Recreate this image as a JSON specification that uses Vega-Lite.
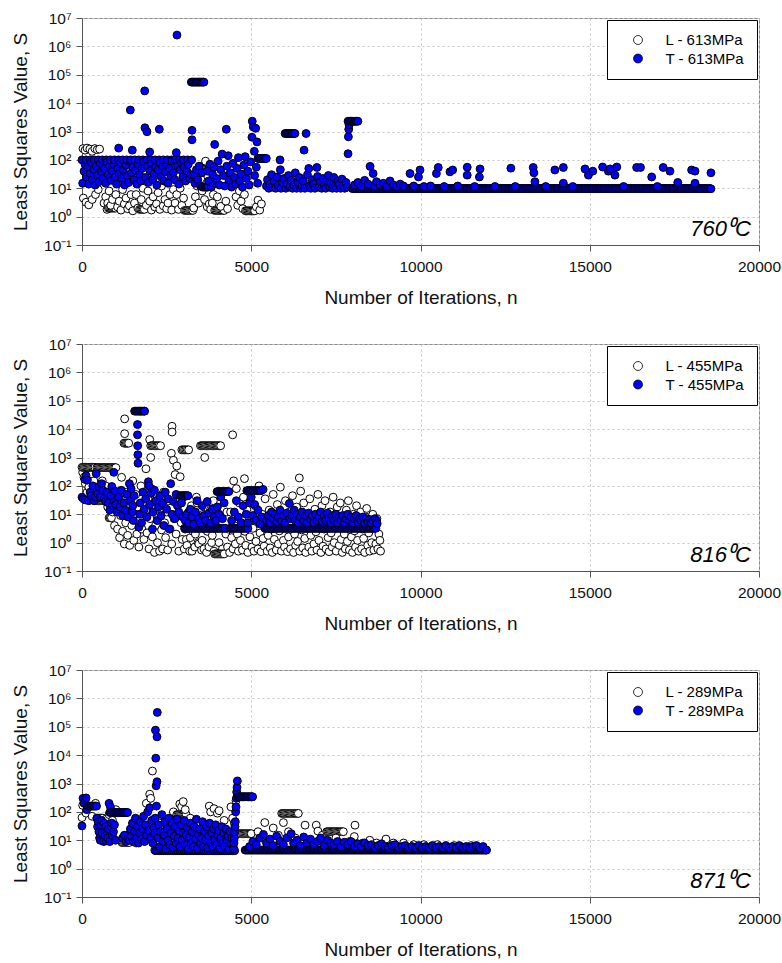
{
"$schema": "https://vega.github.io/schema/vega-lite/v6.json",
"padding": {"left": 11, "top": 10, "right": 4, "bottom": 4},
"background": "white",
"config": {
"font": "Liberation Sans",
"view": {"stroke": "#8a8a8a", "strokeWidth": 1},
"axis": {"labelFont": "Liberation Sans", "labelFontSize": 15.5, "labelColor": "#111", "titleFont": "Liberation Sans", "titleFontSize": 19, "titleFontWeight": "normal", "titleColor": "#111", "domainColor": "#555", "tickColor": "#555", "tickSize": 6, "grid": true, "gridColor": "#c4c4c4", "gridDash": [2, 3], "gridWidth": 1},
"axisX": {"labelPadding": 8, "titlePadding": 14, "labelFlush": false, "labelOverlap": false},
"axisY": {"labelPadding": 5, "titlePadding": 13},
"legend": {"orient": "top-right", "offset": 2, "strokeColor": "#000", "fillColor": "#fff", "padding": 12.5, "labelFont": "Liberation Sans", "labelFontSize": 15, "labelColor": "#000", "symbolSize": 80, "symbolStrokeColor": "#000", "symbolStrokeWidth": 0.8, "symbolType": "circle", "labelOffset": 20, "symbolOffset": 11, "rowPadding": 2.5}
},
"datasets": {
"l1": [{"n":30,"v":250},{"n":40,"v":4.5},{"n":90,"v":220},{"n":120,"v":3.2},{"n":150,"v":260},{"n":200,"v":2.6},{"n":230,"v":240},{"n":300,"v":4},{"n":300,"v":200},{"n":380,"v":250},{"n":400,"v":6},{"n":450,"v":230},{"n":480,"v":9},{"n":520,"v":240},{"n":650,"v":3},{"n":700,"v":5},{"n":740,"v":1.8},{"n":760,"v":3},{"n":780,"v":2},{"n":815,"v":2},{"n":850,"v":2},{"n":885,"v":2},{"n":920,"v":2},{"n":955,"v":2},{"n":990,"v":2},{"n":800,"v":8},{"n":850,"v":2.5},{"n":900,"v":4},{"n":1000,"v":6},{"n":1050,"v":2.2},{"n":1100,"v":3.5},{"n":1150,"v":1.7},{"n":1200,"v":9},{"n":1250,"v":2.8},{"n":1300,"v":4.5},{"n":1350,"v":1.9},{"n":1400,"v":2.4},{"n":1450,"v":6},{"n":1500,"v":1.6},{"n":1550,"v":3},{"n":1600,"v":6},{"n":1650,"v":2},{"n":1700,"v":1.8},{"n":1735,"v":1.8},{"n":1770,"v":1.8},{"n":1805,"v":1.8},{"n":1840,"v":1.8},{"n":1750,"v":4},{"n":1800,"v":10},{"n":1900,"v":2.5},{"n":1950,"v":8},{"n":2000,"v":3.5},{"n":2050,"v":1.7},{"n":2100,"v":5},{"n":2150,"v":2.2},{"n":2200,"v":2.8},{"n":2250,"v":7},{"n":2300,"v":1.8},{"n":2350,"v":12},{"n":2400,"v":2.4},{"n":2450,"v":4},{"n":2500,"v":1.9},{"n":2540,"v":3},{"n":2600,"v":6},{"n":2650,"v":1.7},{"n":2700,"v":9},{"n":2750,"v":3},{"n":2800,"v":6},{"n":2850,"v":1.8},{"n":2900,"v":10},{"n":2950,"v":2.5},{"n":3000,"v":4.5},{"n":3030,"v":1.65},{"n":3065,"v":1.65},{"n":3100,"v":1.65},{"n":3135,"v":1.65},{"n":3170,"v":1.65},{"n":3205,"v":1.65},{"n":3240,"v":1.65},{"n":3275,"v":1.65},{"n":3300,"v":2},{"n":3350,"v":5},{"n":3400,"v":12},{"n":3450,"v":3},{"n":3500,"v":30},{"n":3520,"v":60},{"n":3550,"v":8},{"n":3580,"v":20},{"n":3600,"v":48},{"n":3635,"v":48},{"n":3670,"v":48},{"n":3705,"v":48},{"n":3740,"v":48},{"n":3775,"v":48},{"n":3810,"v":48},{"n":3850,"v":48},{"n":3620,"v":4},{"n":3650,"v":90},{"n":3680,"v":15},{"n":3700,"v":2.2},{"n":3720,"v":25},{"n":3760,"v":2.8},{"n":3800,"v":1.8},{"n":3850,"v":3},{"n":3880,"v":6},{"n":3920,"v":1.65},{"n":3955,"v":1.65},{"n":3990,"v":1.65},{"n":4025,"v":1.65},{"n":4060,"v":1.65},{"n":4095,"v":1.65},{"n":4130,"v":1.65},{"n":4165,"v":1.65},{"n":4200,"v":1.65},{"n":4000,"v":5},{"n":4100,"v":2.3},{"n":4250,"v":3.5},{"n":4300,"v":1.9},{"n":4550,"v":5},{"n":4600,"v":2.5},{"n":4650,"v":8},{"n":4700,"v":3.5},{"n":4750,"v":1.9},{"n":4800,"v":6},{"n":4830,"v":1.6},{"n":4865,"v":1.6},{"n":4900,"v":1.6},{"n":4935,"v":1.6},{"n":4970,"v":1.6},{"n":5005,"v":1.6},{"n":5040,"v":1.6},{"n":5075,"v":1.6},{"n":5100,"v":1.6},{"n":5150,"v":2.2},{"n":5200,"v":3.8},{"n":5250,"v":1.7},{"n":5300,"v":2.8}],
"t1": [{"n":0,"v":100},{"n":20,"v":15},{"n":60,"v":40},{"n":90,"v":70},{"n":120,"v":100},{"n":130,"v":25},{"n":170,"v":55},{"n":200,"v":14},{"n":240,"v":100},{"n":240,"v":33},{"n":280,"v":80},{"n":310,"v":20},{"n":350,"v":45},{"n":360,"v":100},{"n":390,"v":13},{"n":420,"v":60},{"n":460,"v":28},{"n":480,"v":100},{"n":500,"v":17},{"n":540,"v":75},{"n":580,"v":38},{"n":600,"v":100},{"n":620,"v":22},{"n":660,"v":50},{"n":700,"v":15},{"n":720,"v":100},{"n":740,"v":85},{"n":780,"v":30},{"n":820,"v":60},{"n":840,"v":100},{"n":860,"v":19},{"n":900,"v":40},{"n":940,"v":70},{"n":960,"v":100},{"n":980,"v":25},{"n":1020,"v":14},{"n":1060,"v":50},{"n":1080,"v":100},{"n":1084,"v":260},{"n":1100,"v":33},{"n":1140,"v":80},{"n":1180,"v":22},{"n":1200,"v":100},{"n":1220,"v":45},{"n":1260,"v":13},{"n":1300,"v":65},{"n":1320,"v":100},{"n":1340,"v":28},{"n":1380,"v":16},{"n":1420,"v":90},{"n":1428,"v":5700},{"n":1440,"v":100},{"n":1460,"v":35},{"n":1486,"v":220},{"n":1500,"v":55},{"n":1540,"v":20},{"n":1560,"v":100},{"n":1580,"v":42},{"n":1620,"v":14},{"n":1660,"v":70},{"n":1680,"v":100},{"n":1700,"v":30},{"n":1740,"v":18},{"n":1780,"v":50},{"n":1800,"v":100},{"n":1820,"v":85},{"n":1852,"v":27000},{"n":1860,"v":1350},{"n":1880,"v":24},{"n":1920,"v":980},{"n":1920,"v":100},{"n":1930,"v":60},{"n":1960,"v":16},{"n":2000,"v":190},{"n":2010,"v":40},{"n":2040,"v":100},{"n":2050,"v":75},{"n":2090,"v":20},{"n":2130,"v":32},{"n":2160,"v":100},{"n":2170,"v":55},{"n":2210,"v":13},{"n":2250,"v":45},{"n":2280,"v":100},{"n":2284,"v":1200},{"n":2300,"v":80},{"n":2340,"v":25},{"n":2380,"v":60},{"n":2400,"v":100},{"n":2420,"v":18},{"n":2460,"v":38},{"n":2500,"v":70},{"n":2520,"v":100},{"n":2540,"v":15},{"n":2580,"v":50},{"n":2620,"v":28},{"n":2640,"v":100},{"n":2660,"v":90},{"n":2700,"v":35},{"n":2740,"v":20},{"n":2760,"v":100},{"n":2786,"v":180},{"n":2806,"v":2500000},{"n":2820,"v":60},{"n":2860,"v":14},{"n":2880,"v":100},{"n":2900,"v":45},{"n":2940,"v":80},{"n":2980,"v":25},{"n":3000,"v":100},{"n":3020,"v":55},{"n":3060,"v":18},{"n":3100,"v":40},{"n":3120,"v":100},{"n":3140,"v":70},{"n":3180,"v":22},{"n":3220,"v":30},{"n":3240,"v":100},{"n":3250,"v":1100},{"n":3250,"v":510},{"n":3230,"v":55000},{"n":3265,"v":55000},{"n":3300,"v":55000},{"n":3335,"v":55000},{"n":3370,"v":55000},{"n":3405,"v":55000},{"n":3440,"v":55000},{"n":3475,"v":55000},{"n":3510,"v":55000},{"n":3545,"v":55000},{"n":3580,"v":55000},{"n":3600,"v":55000},{"n":3300,"v":30},{"n":3340,"v":15},{"n":3380,"v":45},{"n":3420,"v":20},{"n":3460,"v":60},{"n":3500,"v":12},{"n":3540,"v":35},{"n":3560,"v":11},{"n":3595,"v":11},{"n":3630,"v":11},{"n":3665,"v":11},{"n":3700,"v":11},{"n":3720,"v":11},{"n":3700,"v":40},{"n":3740,"v":18},{"n":3780,"v":70},{"n":3820,"v":11},{"n":3860,"v":30},{"n":3900,"v":55},{"n":3920,"v":350},{"n":3940,"v":15},{"n":3980,"v":22},{"n":4020,"v":90},{"n":4060,"v":13},{"n":4100,"v":45},{"n":4140,"v":160},{"n":4180,"v":28},{"n":4220,"v":12},{"n":4263,"v":1200},{"n":4280,"v":60},{"n":4320,"v":140},{"n":4340,"v":20},{"n":4380,"v":35},{"n":4420,"v":11},{"n":4460,"v":75},{"n":4500,"v":24},{"n":4540,"v":14},{"n":4580,"v":50},{"n":4620,"v":120},{"n":4660,"v":18},{"n":4700,"v":32},{"n":4740,"v":11},{"n":4780,"v":65},{"n":4820,"v":130},{"n":4860,"v":22},{"n":4900,"v":40},{"n":4940,"v":13},{"n":4980,"v":85},{"n":5020,"v":630},{"n":5030,"v":2300},{"n":5060,"v":1450},{"n":5090,"v":200},{"n":5100,"v":28},{"n":5130,"v":1300},{"n":5150,"v":55},{"n":5170,"v":430},{"n":5190,"v":15},{"n":5200,"v":112},{"n":5235,"v":112},{"n":5270,"v":112},{"n":5305,"v":112},{"n":5340,"v":112},{"n":5375,"v":112},{"n":5410,"v":112},{"n":5445,"v":112},{"n":5450,"v":12},{"n":5480,"v":20},{"n":5520,"v":10},{"n":5560,"v":14},{"n":5600,"v":30},{"n":5640,"v":11},{"n":5680,"v":18},{"n":5720,"v":10},{"n":5760,"v":25},{"n":5800,"v":13},{"n":5850,"v":100},{"n":5860,"v":45},{"n":5880,"v":10},{"n":5920,"v":16},{"n":5960,"v":22},{"n":6000,"v":850},{"n":6035,"v":850},{"n":6070,"v":850},{"n":6105,"v":850},{"n":6140,"v":850},{"n":6175,"v":850},{"n":6210,"v":850},{"n":6245,"v":850},{"n":6290,"v":850},{"n":6020,"v":10},{"n":6060,"v":14},{"n":6100,"v":28},{"n":6140,"v":11},{"n":6180,"v":19},{"n":6220,"v":10},{"n":6260,"v":13},{"n":6300,"v":35},{"n":6340,"v":10},{"n":6380,"v":16},{"n":6420,"v":24},{"n":6460,"v":10},{"n":6500,"v":12},{"n":6540,"v":18},{"n":6560,"v":220},{"n":6580,"v":10},{"n":6620,"v":850},{"n":6660,"v":30},{"n":6700,"v":50},{"n":6720,"v":12},{"n":6760,"v":10},{"n":6800,"v":20},{"n":6840,"v":14},{"n":6880,"v":10},{"n":6940,"v":54},{"n":6960,"v":26},{"n":7000,"v":11},{"n":7040,"v":17},{"n":7080,"v":10},{"n":7120,"v":22},{"n":7160,"v":13},{"n":7200,"v":10},{"n":7240,"v":19},{"n":7280,"v":28},{"n":7320,"v":11},{"n":7360,"v":15},{"n":7400,"v":10},{"n":7440,"v":24},{"n":7480,"v":12},{"n":7520,"v":10},{"n":7560,"v":18},{"n":7600,"v":14},{"n":7640,"v":10},{"n":7680,"v":21},{"n":7720,"v":12},{"n":7760,"v":10},{"n":7800,"v":16},{"n":7840,"v":11},{"n":7860,"v":165},{"n":7870,"v":650},{"n":7880,"v":1200},{"n":7890,"v":1700},{"n":7860,"v":2300},{"n":7895,"v":2300},{"n":7930,"v":2300},{"n":7965,"v":2300},{"n":8000,"v":2300},{"n":8035,"v":2300},{"n":8070,"v":2300},{"n":8105,"v":2300},{"n":8150,"v":2300},
{"n":7980,"v":9.8},{"n":8020,"v":9.8},{"n":8060,"v":9.8},{"n":8100,"v":9.8},{"n":8140,"v":9.8},{"n":8180,"v":9.8},{"n":8220,"v":9.8},{"n":8260,"v":9.8},{"n":8300,"v":9.8},{"n":8340,"v":9.8},{"n":8380,"v":9.8},{"n":8420,"v":9.8},{"n":8460,"v":9.8},{"n":8500,"v":9.8},{"n":8540,"v":9.8},{"n":8580,"v":9.8},{"n":8620,"v":9.8},{"n":8660,"v":9.8},{"n":8700,"v":9.8},{"n":8740,"v":9.8},{"n":8780,"v":9.8},{"n":8820,"v":9.8},{"n":8860,"v":9.8},{"n":8900,"v":9.8},{"n":8940,"v":9.8},{"n":8980,"v":9.8},
{"n":9020,"v":9.8},{"n":9060,"v":9.8},{"n":9100,"v":9.8},{"n":9140,"v":9.8},{"n":9180,"v":9.8},{"n":9220,"v":9.8},{"n":9260,"v":9.8},{"n":9300,"v":9.8},{"n":9340,"v":9.8},{"n":9380,"v":9.8},{"n":9420,"v":9.8},{"n":9460,"v":9.8},{"n":9500,"v":9.8},{"n":9540,"v":9.8},{"n":9580,"v":9.8},{"n":9620,"v":9.8},{"n":9660,"v":9.8},{"n":9700,"v":9.8},{"n":9740,"v":9.8},{"n":9780,"v":9.8},{"n":9820,"v":9.8},{"n":9860,"v":9.8},{"n":9900,"v":9.8},{"n":9940,"v":9.8},{"n":9980,"v":9.8},
{"n":10020,"v":9.8},{"n":10060,"v":9.8},{"n":10100,"v":9.8},{"n":10140,"v":9.8},{"n":10180,"v":9.8},{"n":10220,"v":9.8},{"n":10260,"v":9.8},{"n":10300,"v":9.8},{"n":10340,"v":9.8},{"n":10380,"v":9.8},{"n":10420,"v":9.8},{"n":10460,"v":9.8},{"n":10500,"v":9.8},{"n":10540,"v":9.8},{"n":10580,"v":9.8},{"n":10620,"v":9.8},{"n":10660,"v":9.8},{"n":10700,"v":9.8},{"n":10740,"v":9.8},{"n":10780,"v":9.8},{"n":10820,"v":9.8},{"n":10860,"v":9.8},{"n":10900,"v":9.8},{"n":10940,"v":9.8},{"n":10980,"v":9.8},
{"n":11020,"v":9.8},{"n":11060,"v":9.8},{"n":11100,"v":9.8},{"n":11140,"v":9.8},{"n":11180,"v":9.8},{"n":11220,"v":9.8},{"n":11260,"v":9.8},{"n":11300,"v":9.8},{"n":11340,"v":9.8},{"n":11380,"v":9.8},{"n":11420,"v":9.8},{"n":11460,"v":9.8},{"n":11500,"v":9.8},{"n":11540,"v":9.8},{"n":11580,"v":9.8},{"n":11620,"v":9.8},{"n":11660,"v":9.8},{"n":11700,"v":9.8},{"n":11740,"v":9.8},{"n":11780,"v":9.8},{"n":11820,"v":9.8},{"n":11860,"v":9.8},{"n":11900,"v":9.8},{"n":11940,"v":9.8},{"n":11980,"v":9.8},
{"n":12020,"v":9.8},{"n":12060,"v":9.8},{"n":12100,"v":9.8},{"n":12140,"v":9.8},{"n":12180,"v":9.8},{"n":12220,"v":9.8},{"n":12260,"v":9.8},{"n":12300,"v":9.8},{"n":12340,"v":9.8},{"n":12380,"v":9.8},{"n":12420,"v":9.8},{"n":12460,"v":9.8},{"n":12500,"v":9.8},{"n":12540,"v":9.8},{"n":12580,"v":9.8},{"n":12620,"v":9.8},{"n":12660,"v":9.8},{"n":12700,"v":9.8},{"n":12740,"v":9.8},{"n":12780,"v":9.8},{"n":12820,"v":9.8},{"n":12860,"v":9.8},{"n":12900,"v":9.8},{"n":12940,"v":9.8},{"n":12980,"v":9.8},
{"n":13020,"v":9.8},{"n":13060,"v":9.8},{"n":13100,"v":9.8},{"n":13140,"v":9.8},{"n":13180,"v":9.8},{"n":13220,"v":9.8},{"n":13260,"v":9.8},{"n":13300,"v":9.8},{"n":13340,"v":9.8},{"n":13380,"v":9.8},{"n":13420,"v":9.8},{"n":13460,"v":9.8},{"n":13500,"v":9.8},{"n":13540,"v":9.8},{"n":13580,"v":9.8},{"n":13620,"v":9.8},{"n":13660,"v":9.8},{"n":13700,"v":9.8},{"n":13740,"v":9.8},{"n":13780,"v":9.8},{"n":13820,"v":9.8},{"n":13860,"v":9.8},{"n":13900,"v":9.8},{"n":13940,"v":9.8},{"n":13980,"v":9.8},
{"n":14020,"v":9.8},{"n":14060,"v":9.8},{"n":14100,"v":9.8},{"n":14140,"v":9.8},{"n":14180,"v":9.8},{"n":14220,"v":9.8},{"n":14260,"v":9.8},{"n":14300,"v":9.8},{"n":14340,"v":9.8},{"n":14380,"v":9.8},{"n":14420,"v":9.8},{"n":14460,"v":9.8},{"n":14500,"v":9.8},{"n":14540,"v":9.8},{"n":14580,"v":9.8},{"n":14620,"v":9.8},{"n":14660,"v":9.8},{"n":14700,"v":9.8},{"n":14740,"v":9.8},{"n":14780,"v":9.8},{"n":14820,"v":9.8},{"n":14860,"v":9.8},{"n":14900,"v":9.8},{"n":14940,"v":9.8},{"n":14980,"v":9.8},
{"n":15020,"v":9.8},{"n":15060,"v":9.8},{"n":15100,"v":9.8},{"n":15140,"v":9.8},{"n":15180,"v":9.8},{"n":15220,"v":9.8},{"n":15260,"v":9.8},{"n":15300,"v":9.8},{"n":15340,"v":9.8},{"n":15380,"v":9.8},{"n":15420,"v":9.8},{"n":15460,"v":9.8},{"n":15500,"v":9.8},{"n":15540,"v":9.8},{"n":15580,"v":9.8},{"n":15620,"v":9.8},{"n":15660,"v":9.8},{"n":15700,"v":9.8},{"n":15740,"v":9.8},{"n":15780,"v":9.8},{"n":15820,"v":9.8},{"n":15860,"v":9.8},{"n":15900,"v":9.8},{"n":15940,"v":9.8},{"n":15980,"v":9.8},
{"n":16020,"v":9.8},{"n":16060,"v":9.8},{"n":16100,"v":9.8},{"n":16140,"v":9.8},{"n":16180,"v":9.8},{"n":16220,"v":9.8},{"n":16260,"v":9.8},{"n":16300,"v":9.8},{"n":16340,"v":9.8},{"n":16380,"v":9.8},{"n":16420,"v":9.8},{"n":16460,"v":9.8},{"n":16500,"v":9.8},{"n":16540,"v":9.8},{"n":16580,"v":9.8},{"n":16620,"v":9.8},{"n":16660,"v":9.8},{"n":16700,"v":9.8},{"n":16740,"v":9.8},{"n":16780,"v":9.8},{"n":16820,"v":9.8},{"n":16860,"v":9.8},{"n":16900,"v":9.8},{"n":16940,"v":9.8},{"n":16980,"v":9.8},
{"n":17020,"v":9.8},{"n":17060,"v":9.8},{"n":17100,"v":9.8},{"n":17140,"v":9.8},{"n":17180,"v":9.8},{"n":17220,"v":9.8},{"n":17260,"v":9.8},{"n":17300,"v":9.8},{"n":17340,"v":9.8},{"n":17380,"v":9.8},{"n":17420,"v":9.8},{"n":17460,"v":9.8},{"n":17500,"v":9.8},{"n":17540,"v":9.8},{"n":17580,"v":9.8},{"n":17620,"v":9.8},{"n":17660,"v":9.8},{"n":17700,"v":9.8},{"n":17740,"v":9.8},{"n":17780,"v":9.8},{"n":17820,"v":9.8},{"n":17860,"v":9.8},{"n":17900,"v":9.8},{"n":17940,"v":9.8},{"n":17980,"v":9.8},
{"n":18020,"v":9.8},{"n":18060,"v":9.8},{"n":18100,"v":9.8},{"n":18140,"v":9.8},{"n":18180,"v":9.8},{"n":18220,"v":9.8},{"n":18260,"v":9.8},{"n":18300,"v":9.8},{"n":18340,"v":9.8},{"n":18380,"v":9.8},{"n":18420,"v":9.8},{"n":18460,"v":9.8},{"n":18500,"v":9.8},{"n":18540,"v":9.8},{"n":18580,"v":9.6},
{"n":8050,"v":13},{"n":8150,"v":16},{"n":8250,"v":12},{"n":8350,"v":19},{"n":8450,"v":14},{"n":8510,"v":59},{"n":8600,"v":33},{"n":8650,"v":12},{"n":8700,"v":17},{"n":8800,"v":13},{"n":8900,"v":15},{"n":9000,"v":12},{"n":9100,"v":18},{"n":9200,"v":13},{"n":9300,"v":11.5},{"n":9400,"v":14},{"n":9500,"v":12},{"n":9690,"v":33},{"n":9800,"v":12},{"n":9940,"v":25},{"n":9985,"v":44},{"n":10100,"v":11.5},{"n":10300,"v":12},{"n":10470,"v":33},{"n":10525,"v":54},{"n":10700,"v":11.5},{"n":10870,"v":38},{"n":10950,"v":44},{"n":11100,"v":12},{"n":11380,"v":55},{"n":11380,"v":29},{"n":11600,"v":11.5},{"n":11740,"v":25},{"n":11760,"v":48},{"n":12200,"v":11.5},{"n":12670,"v":51},{"n":12800,"v":11.5},{"n":13330,"v":54},{"n":13350,"v":35},{"n":13380,"v":17},{"n":13700,"v":11.5},{"n":13970,"v":44},{"n":14220,"v":54},{"n":14220,"v":15},{"n":14500,"v":11.5},{"n":14860,"v":48},{"n":14960,"v":29},{"n":15090,"v":40},{"n":15380,"v":56},{"n":15550,"v":40},{"n":15600,"v":48},{"n":15745,"v":29},{"n":15800,"v":56},{"n":16000,"v":11.5},{"n":16385,"v":54},{"n":16500,"v":54},{"n":16830,"v":25},{"n":17000,"v":11.5},{"n":17170,"v":54},{"n":17370,"v":40},{"n":17600,"v":16},{"n":18010,"v":44},{"n":18110,"v":40},{"n":18110,"v":15},{"n":18580,"v":35}],
"l2": [{"n":20,"v":300},{"n":60,"v":200},{"n":100,"v":120},{"n":150,"v":60},{"n":200,"v":90},{"n":250,"v":250},{"n":300,"v":40},{"n":350,"v":150},{"n":0,"v":450},{"n":35,"v":450},{"n":70,"v":450},{"n":105,"v":450},{"n":140,"v":450},{"n":175,"v":450},{"n":210,"v":450},{"n":245,"v":450},{"n":280,"v":450},{"n":315,"v":450},{"n":350,"v":450},{"n":385,"v":450},{"n":380,"v":30},{"n":415,"v":30},{"n":450,"v":30},{"n":485,"v":30},{"n":520,"v":30},{"n":555,"v":30},{"n":590,"v":30},{"n":625,"v":30},{"n":660,"v":30},{"n":695,"v":30},{"n":730,"v":30},{"n":500,"v":60},{"n":600,"v":150},{"n":700,"v":100},{"n":760,"v":18},{"n":800,"v":45},{"n":440,"v":440},{"n":475,"v":440},{"n":510,"v":440},{"n":545,"v":440},{"n":580,"v":440},{"n":615,"v":440},{"n":650,"v":440},{"n":685,"v":440},{"n":720,"v":440},{"n":755,"v":440},{"n":790,"v":440},{"n":825,"v":440},{"n":860,"v":440},{"n":895,"v":440},{"n":930,"v":440},{"n":965,"v":440},{"n":1000,"v":440},{"n":800,"v":7.5},{"n":835,"v":7.5},{"n":870,"v":7.5},{"n":860,"v":25},{"n":900,"v":12},{"n":920,"v":70},{"n":960,"v":4},{"n":1000,"v":35},{"n":1020,"v":15},{"n":1050,"v":3},{"n":1080,"v":40},{"n":1110,"v":1.5},{"n":1140,"v":9},{"n":1170,"v":200},{"n":1200,"v":2.5},{"n":1230,"v":25},{"n":1250,"v":0.9},{"n":1260,"v":23000},{"n":1260,"v":6900},{"n":1240,"v":3200},{"n":1275,"v":3200},{"n":1310,"v":3200},{"n":1345,"v":3200},{"n":1380,"v":3200},{"n":1290,"v":5},{"n":1320,"v":60},{"n":1350,"v":1.8},{"n":1380,"v":12},{"n":1410,"v":0.8},{"n":1440,"v":30},{"n":1470,"v":4},{"n":1500,"v":150},{"n":1530,"v":1.2},{"n":1560,"v":8},{"n":1590,"v":50},{"n":1620,"v":2},{"n":1650,"v":18},{"n":1680,"v":0.7},{"n":1710,"v":6},{"n":1740,"v":100},{"n":1770,"v":3},{"n":1800,"v":25},{"n":1830,"v":1.3},{"n":1860,"v":10},{"n":1890,"v":400},{"n":1920,"v":2.2},{"n":1950,"v":35},{"n":1980,"v":0.6},{"n":2000,"v":4300},{"n":2010,"v":7},{"n":2030,"v":1000},{"n":2030,"v":2600},{"n":2065,"v":2600},{"n":2100,"v":2600},{"n":2135,"v":2600},{"n":2170,"v":2600},{"n":2205,"v":2600},{"n":2240,"v":2600},{"n":2275,"v":2600},{"n":2320,"v":2600},{"n":2050,"v":80},{"n":2080,"v":1.6},{"n":2110,"v":15},{"n":2140,"v":0.45},{"n":2170,"v":4},{"n":2200,"v":45},{"n":2230,"v":1},{"n":2260,"v":9},{"n":2290,"v":0.5},{"n":2320,"v":20},{"n":2350,"v":2.8},{"n":2380,"v":0.6},{"n":2410,"v":60},{"n":2440,"v":5},{"n":2470,"v":1.5},{"n":2500,"v":12},{"n":2530,"v":0.55},{"n":2560,"v":30},{"n":2600,"v":3},{"n":2640,"v":1400},{"n":2650,"v":0.9},{"n":2660,"v":12600},{"n":2662,"v":7900},{"n":2700,"v":800},{"n":2720,"v":7},{"n":2750,"v":250},{"n":2780,"v":2},{"n":2800,"v":500},{"n":2830,"v":20},{"n":2860,"v":0.5},{"n":2900,"v":210},{"n":2930,"v":5},{"n":2950,"v":1860},{"n":2990,"v":1860},{"n":3030,"v":1860},{"n":3070,"v":1860},{"n":3110,"v":1860},{"n":3150,"v":1860},{"n":2960,"v":1.3},{"n":3000,"v":40},{"n":3020,"v":0.6},{"n":3050,"v":3},{"n":3080,"v":1.3},{"n":3100,"v":0.8},{"n":3130,"v":8},{"n":3150,"v":12},{"n":3180,"v":0.5},{"n":3200,"v":1.5},{"n":3230,"v":20},{"n":3250,"v":0.5},{"n":3280,"v":2.5},{"n":3300,"v":6},{"n":3330,"v":0.7},{"n":3350,"v":2},{"n":3380,"v":40},{"n":3400,"v":25},{"n":3430,"v":1},{"n":3450,"v":0.9},{"n":3480,"v":5},{"n":3500,"v":4},{"n":3530,"v":0.55},{"n":3550,"v":1.2},{"n":3580,"v":10},{"n":3600,"v":0.6},{"n":3625,"v":1000},{"n":3500,"v":2600},{"n":3535,"v":2600},{"n":3570,"v":2600},{"n":3605,"v":2600},{"n":3640,"v":2600},{"n":3675,"v":2600},{"n":3710,"v":2600},{"n":3745,"v":2600},{"n":3780,"v":2600},{"n":3815,"v":2600},{"n":3850,"v":2600},{"n":3885,"v":2600},{"n":3920,"v":2600},{"n":3955,"v":2600},{"n":3990,"v":2600},{"n":4025,"v":2600},{"n":4060,"v":2600},{"n":4095,"v":2600},{"n":3630,"v":3},{"n":3650,"v":9},{"n":3680,"v":0.45},{"n":3700,"v":2.5},{"n":3730,"v":15},{"n":3750,"v":0.7},{"n":3780,"v":4},{"n":3800,"v":15},{"n":3830,"v":1},{"n":3850,"v":1.8},{"n":3880,"v":30},{"n":3900,"v":0.5},{"n":4000,"v":3.5},{"n":4050,"v":1},{"n":4100,"v":8},{"n":4150,"v":0.6},{"n":3920,"v":0.4},{"n":3955,"v":0.4},{"n":3990,"v":0.4},{"n":4025,"v":0.4},{"n":4060,"v":0.4},{"n":4095,"v":0.4},{"n":4130,"v":0.4},{"n":4165,"v":0.4},{"n":4200,"v":0.4},{"n":4250,"v":2},{"n":4280,"v":12},
{"n":4300,"v":0.7},{"n":4330,"v":3},{"n":4360,"v":0.45},{"n":4390,"v":12},{"n":4420,"v":1.5},{"n":4450,"v":6300},{"n":4460,"v":0.6},{"n":4480,"v":150},{"n":4500,"v":4},{"n":4530,"v":0.9},{"n":4560,"v":80},{"n":4590,"v":2},{"n":4620,"v":0.5},{"n":4650,"v":25},{"n":4680,"v":1.2},{"n":4710,"v":7},{"n":4740,"v":0.55},{"n":4770,"v":40},{"n":4800,"v":180},{"n":4810,"v":2.5},{"n":4840,"v":0.8},{"n":4870,"v":15},{"n":4900,"v":0.45},{"n":4930,"v":5},{"n":4960,"v":1.6},{"n":4990,"v":60},{"n":5020,"v":0.7},{"n":5050,"v":3.2},{"n":5080,"v":0.5},{"n":5110,"v":20},{"n":5140,"v":1.1},{"n":5170,"v":8},{"n":5200,"v":0.6},{"n":5230,"v":100},{"n":5260,"v":2.2},{"n":5290,"v":0.48},{"n":5320,"v":10},{"n":5350,"v":1.4},{"n":5380,"v":0.75},{"n":5410,"v":35},{"n":5440,"v":4.5},{"n":5470,"v":0.5},{"n":5500,"v":1.8},{"n":5530,"v":14},{"n":5560,"v":0.65},{"n":5590,"v":3},{"n":5620,"v":0.45},{"n":5650,"v":50},{"n":5680,"v":1.3},{"n":5710,"v":6},{"n":5740,"v":0.55},{"n":5770,"v":22},{"n":5800,"v":0.9},{"n":5830,"v":2.6},{"n":5860,"v":90},{"n":5890,"v":0.5},{"n":5920,"v":9},{"n":5950,"v":1.2},{"n":5980,"v":0.7},{"n":6010,"v":30},{"n":6040,"v":3.8},{"n":6070,"v":0.48},{"n":6100,"v":1.6},{"n":6130,"v":12},{"n":6160,"v":0.6},{"n":6190,"v":5},{"n":6220,"v":45},{"n":6250,"v":0.45},{"n":6280,"v":2},{"n":6310,"v":0.8},{"n":6340,"v":18},{"n":6370,"v":1.1},{"n":6400,"v":7},{"n":6420,"v":190},{"n":6430,"v":0.5},{"n":6460,"v":65},{"n":6490,"v":2.8},{"n":6520,"v":0.65},{"n":6550,"v":25},{"n":6580,"v":1.4},{"n":6610,"v":0.45},{"n":6640,"v":10},{"n":6670,"v":4},{"n":6700,"v":0.7},{"n":6730,"v":35},{"n":6760,"v":1.8},{"n":6790,"v":0.5},{"n":6820,"v":8},{"n":6850,"v":0.9},{"n":6880,"v":15},{"n":6910,"v":2.4},{"n":6940,"v":0.55},{"n":6970,"v":50},{"n":7000,"v":1.2},{"n":7030,"v":5.5},{"n":7060,"v":0.45},{"n":7090,"v":20},{"n":7120,"v":0.75},{"n":7150,"v":3},{"n":7180,"v":30},{"n":7210,"v":0.6},{"n":7240,"v":9},{"n":7270,"v":1.5},{"n":7300,"v":0.48},{"n":7330,"v":12},{"n":7360,"v":2.2},{"n":7390,"v":0.7},{"n":7420,"v":40},{"n":7450,"v":1},{"n":7480,"v":6},{"n":7510,"v":0.5},{"n":7540,"v":18},{"n":7570,"v":3.5},{"n":7600,"v":0.8},{"n":7630,"v":25},{"n":7660,"v":1.3},{"n":7690,"v":0.45},{"n":7720,"v":7},{"n":7750,"v":2},{"n":7780,"v":0.6},{"n":7810,"v":14},{"n":7840,"v":1.1},{"n":7870,"v":30},{"n":7900,"v":0.55},{"n":7930,"v":4.5},{"n":7960,"v":1.6},{"n":7990,"v":0.45},{"n":8020,"v":10},{"n":8050,"v":2.6},{"n":8080,"v":0.7},{"n":8110,"v":20},{"n":8140,"v":1.2},{"n":8170,"v":0.5},{"n":8200,"v":6},{"n":8230,"v":12},{"n":8260,"v":0.6},{"n":8290,"v":3},{"n":8320,"v":1.4},{"n":8350,"v":0.45},{"n":8380,"v":8},{"n":8410,"v":16},{"n":8440,"v":0.8},{"n":8470,"v":2.2},{"n":8500,"v":0.5},{"n":8530,"v":5},{"n":8560,"v":1},{"n":8590,"v":10},{"n":8620,"v":0.55},{"n":8650,"v":3.5},{"n":8680,"v":0.9},{"n":8710,"v":7},{"n":8740,"v":0.6},{"n":8770,"v":2},{"n":8800,"v":1.2},{"n":8820,"v":0.5}],
"t2": [{"n":0,"v":40},{"n":40,"v":35},{"n":80,"v":170},{"n":100,"v":32},{"n":120,"v":230},{"n":160,"v":160},{"n":200,"v":30},{"n":240,"v":60},{"n":280,"v":45},{"n":320,"v":100},{"n":360,"v":30},{"n":400,"v":40},{"n":420,"v":270},{"n":460,"v":55},{"n":500,"v":90},{"n":540,"v":40},{"n":580,"v":120},{"n":620,"v":70},{"n":660,"v":35},{"n":700,"v":28},{"n":740,"v":60},{"n":780,"v":25},{"n":820,"v":14},{"n":860,"v":45},{"n":880,"v":95},{"n":900,"v":20},{"n":940,"v":300},{"n":960,"v":28},{"n":980,"v":65},{"n":1000,"v":22},{"n":1040,"v":12},{"n":1080,"v":40},{"n":1120,"v":18},{"n":1160,"v":70},{"n":1200,"v":9},{"n":1240,"v":25},{"n":1280,"v":14},{"n":1320,"v":50},{"n":1360,"v":8},{"n":1400,"v":120},{"n":1420,"v":30},{"n":1450,"v":80},{"n":1480,"v":12},{"n":1500,"v":20},{"n":1520,"v":6},{"n":1540,"v":45},{"n":1640,"v":14500},{"n":1640,"v":6300},{"n":1645,"v":2600},{"n":1650,"v":1250},{"n":1655,"v":630},{"n":1555,"v":43000},{"n":1590,"v":43000},{"n":1625,"v":43000},{"n":1660,"v":43000},{"n":1695,"v":43000},{"n":1730,"v":43000},{"n":1765,"v":43000},{"n":1800,"v":43000},{"n":1835,"v":43000},{"n":1850,"v":43000},{"n":1680,"v":3.5},{"n":1700,"v":10},{"n":1720,"v":25},{"n":1760,"v":5},{"n":1800,"v":60},{"n":1840,"v":15},{"n":1880,"v":35},{"n":1920,"v":8},{"n":1960,"v":140},{"n":1980,"v":100},{"n":2000,"v":22},{"n":2040,"v":55},{"n":2080,"v":3},{"n":2100,"v":12},{"n":2140,"v":70},{"n":2180,"v":30},{"n":2220,"v":6},{"n":2260,"v":18},{"n":2300,"v":45},{"n":2340,"v":9},{"n":2380,"v":25},{"n":2420,"v":4},{"n":2460,"v":60},{"n":2500,"v":15},{"n":2540,"v":35},{"n":2580,"v":3},{"n":2620,"v":120},{"n":2660,"v":10},{"n":2700,"v":28},{"n":2740,"v":7},{"n":2780,"v":50},{"n":2820,"v":20},{"n":2860,"v":12},{"n":2900,"v":45},{"n":2935,"v":45},{"n":2970,"v":45},{"n":3005,"v":45},{"n":3040,"v":45},{"n":3075,"v":45},{"n":3110,"v":45},{"n":3130,"v":45},{"n":2940,"v":25},{"n":2980,"v":8},
{"n":3030,"v":3.2},{"n":3070,"v":3.2},{"n":3110,"v":3.2},{"n":3150,"v":3.2},{"n":3190,"v":3.2},{"n":3230,"v":3.2},{"n":3270,"v":3.2},{"n":3310,"v":3.2},{"n":3350,"v":3.2},{"n":3390,"v":3.2},{"n":3430,"v":3.2},{"n":3470,"v":3.2},{"n":3510,"v":3.2},{"n":3550,"v":3.2},{"n":3590,"v":3.2},{"n":3630,"v":3.2},{"n":3670,"v":3.2},{"n":3710,"v":3.2},{"n":3750,"v":3.2},{"n":3790,"v":3.2},{"n":3830,"v":3.2},{"n":3870,"v":3.2},{"n":3910,"v":3.2},{"n":3950,"v":3.2},{"n":3990,"v":3.2},{"n":4030,"v":3.2},{"n":4070,"v":3.2},{"n":4110,"v":3.2},{"n":4150,"v":3.2},{"n":4190,"v":3.2},{"n":4230,"v":3.2},
{"n":3050,"v":6},{"n":3100,"v":10},{"n":3150,"v":5},{"n":3200,"v":15},{"n":3250,"v":8},{"n":3300,"v":4.5},{"n":3350,"v":12},{"n":3400,"v":30},{"n":3450,"v":7},{"n":3500,"v":5},{"n":3550,"v":20},{"n":3600,"v":9},{"n":3650,"v":6},{"n":3700,"v":28},{"n":3750,"v":11},{"n":3800,"v":5},{"n":3850,"v":15},{"n":3900,"v":8},{"n":3950,"v":6},{"n":4000,"v":18},{"n":4050,"v":10},{"n":4100,"v":40},{"n":4150,"v":7},{"n":4200,"v":25},{"n":3990,"v":63},{"n":4025,"v":63},{"n":4060,"v":63},{"n":4095,"v":63},{"n":4130,"v":63},{"n":4165,"v":63},{"n":4200,"v":63},{"n":4235,"v":63},{"n":4270,"v":63},{"n":4305,"v":63},{"n":4340,"v":63},
{"n":4380,"v":3.2},{"n":4420,"v":3.2},{"n":4460,"v":3.2},{"n":4500,"v":3.2},{"n":4540,"v":3.2},{"n":4580,"v":3.2},{"n":4620,"v":3.2},{"n":4660,"v":3.2},{"n":4700,"v":3.2},{"n":4740,"v":3.2},{"n":4780,"v":3.2},{"n":4820,"v":3.2},{"n":4860,"v":3.2},{"n":4900,"v":3.2},
{"n":4420,"v":6},{"n":4500,"v":12},{"n":4560,"v":30},{"n":4620,"v":8},{"n":4700,"v":5},{"n":4760,"v":20},{"n":4850,"v":10},{"n":4900,"v":5},{"n":4950,"v":25},{"n":5000,"v":40},{"n":5050,"v":9},{"n":5100,"v":22},{"n":5150,"v":6},{"n":5200,"v":14},{"n":5260,"v":4.5},{"n":5300,"v":8},{"n":4870,"v":68},{"n":4905,"v":68},{"n":4940,"v":68},{"n":4975,"v":68},{"n":5010,"v":68},{"n":5045,"v":68},{"n":5080,"v":68},{"n":5115,"v":68},{"n":5150,"v":68},{"n":5185,"v":68},{"n":5220,"v":68},{"n":5255,"v":68},{"n":5290,"v":68},{"n":5350,"v":75},
{"n":5400,"v":3.2},{"n":5440,"v":3.2},{"n":5480,"v":3.2},{"n":5520,"v":3.2},{"n":5560,"v":3.2},{"n":5600,"v":3.2},{"n":5640,"v":3.2},{"n":5680,"v":3.2},{"n":5720,"v":3.2},{"n":5760,"v":3.2},{"n":5800,"v":3.2},{"n":5840,"v":3.2},{"n":5880,"v":3.2},{"n":5920,"v":3.2},{"n":5960,"v":3.2},{"n":6000,"v":3.2},{"n":6040,"v":3.2},{"n":6080,"v":3.2},{"n":6120,"v":3.2},{"n":6160,"v":3.2},{"n":6200,"v":3.2},{"n":6240,"v":3.2},{"n":6280,"v":3.2},{"n":6320,"v":3.2},{"n":6360,"v":3.2},{"n":6400,"v":3.2},{"n":6440,"v":3.2},{"n":6480,"v":3.2},{"n":6520,"v":3.2},{"n":6560,"v":3.2},{"n":6600,"v":3.2},{"n":6640,"v":3.2},{"n":6680,"v":3.2},{"n":6720,"v":3.2},{"n":6760,"v":3.2},{"n":6800,"v":3.2},{"n":6840,"v":3.2},{"n":6880,"v":3.2},{"n":6920,"v":3.2},{"n":6960,"v":3.2},{"n":7000,"v":3.2},{"n":7040,"v":3.2},{"n":7080,"v":3.2},{"n":7120,"v":3.2},{"n":7160,"v":3.2},{"n":7200,"v":3.2},{"n":7240,"v":3.2},{"n":7280,"v":3.2},{"n":7320,"v":3.2},{"n":7360,"v":3.2},{"n":7400,"v":3.2},{"n":7440,"v":3.2},{"n":7480,"v":3.2},{"n":7520,"v":3.2},{"n":7560,"v":3.2},{"n":7600,"v":3.2},{"n":7640,"v":3.2},{"n":7680,"v":3.2},{"n":7720,"v":3.2},{"n":7760,"v":3.2},{"n":7800,"v":3.2},{"n":7840,"v":3.2},{"n":7880,"v":3.2},{"n":7920,"v":3.2},{"n":7960,"v":3.2},{"n":8000,"v":3.2},{"n":8040,"v":3.2},{"n":8080,"v":3.2},{"n":8120,"v":3.2},{"n":8160,"v":3.2},{"n":8200,"v":3.2},{"n":8240,"v":3.2},{"n":8280,"v":3.2},{"n":8320,"v":3.2},{"n":8360,"v":3.2},{"n":8400,"v":3.2},{"n":8440,"v":3.2},{"n":8480,"v":3.2},{"n":8520,"v":3.2},{"n":8560,"v":3.2},{"n":8600,"v":3.2},{"n":8640,"v":3.2},{"n":8680,"v":3.2},
{"n":5450,"v":6},{"n":5500,"v":9},{"n":5550,"v":5},{"n":5600,"v":12},{"n":5650,"v":7},{"n":5700,"v":10},{"n":5750,"v":5.5},{"n":5800,"v":8},{"n":5850,"v":14},{"n":5900,"v":6},{"n":5950,"v":9},{"n":6000,"v":5},{"n":6050,"v":11},{"n":6125,"v":24},{"n":6150,"v":7},{"n":6200,"v":9},{"n":6270,"v":14},{"n":6300,"v":6},{"n":6350,"v":10},{"n":6400,"v":5},{"n":6450,"v":8},{"n":6500,"v":12},{"n":6550,"v":6},{"n":6600,"v":9},{"n":6650,"v":5},{"n":6700,"v":11},{"n":6750,"v":7},{"n":6800,"v":9},{"n":6850,"v":5},{"n":6900,"v":10},{"n":6950,"v":6},{"n":7000,"v":8},{"n":7050,"v":12},{"n":7100,"v":5.5},{"n":7150,"v":9},{"n":7200,"v":6},{"n":7250,"v":11},{"n":7300,"v":7},{"n":7350,"v":5},{"n":7400,"v":9},{"n":7450,"v":6},{"n":7500,"v":10},{"n":7550,"v":5},{"n":7600,"v":8},{"n":7650,"v":6},{"n":7700,"v":9},{"n":7750,"v":5},{"n":7800,"v":7},{"n":7850,"v":10},{"n":7900,"v":6},{"n":7950,"v":8},{"n":8000,"v":5},{"n":8050,"v":7},{"n":8100,"v":9},{"n":8150,"v":5.5},{"n":8200,"v":7},{"n":8250,"v":6},{"n":8300,"v":8},{"n":8350,"v":5},{"n":8400,"v":7},{"n":8450,"v":5.5},{"n":8500,"v":6.5},{"n":8550,"v":5},{"n":8600,"v":6},{"n":8650,"v":7},{"n":8700,"v":6},{"n":8720,"v":4.7}],
"l3": [{"n":0,"v":63},{"n":20,"v":170},{"n":60,"v":220},{"n":120,"v":90},{"n":200,"v":150},{"n":300,"v":70},{"n":400,"v":200},{"n":440,"v":60},{"n":475,"v":60},{"n":510,"v":60},{"n":545,"v":60},{"n":580,"v":60},{"n":615,"v":60},{"n":700,"v":55},{"n":800,"v":80},{"n":900,"v":50},{"n":1000,"v":120},{"n":1180,"v":8.3},{"n":1215,"v":8.3},{"n":1250,"v":8.3},{"n":1285,"v":8.3},{"n":1320,"v":8.3},{"n":1355,"v":8.3},{"n":1390,"v":8.3},{"n":1300,"v":15},{"n":1335,"v":15},{"n":1370,"v":15},{"n":1405,"v":15},{"n":1440,"v":15},{"n":1470,"v":15},{"n":1500,"v":20},{"n":1600,"v":8},{"n":1700,"v":30},{"n":1800,"v":15},{"n":1900,"v":200},{"n":2000,"v":420},{"n":2030,"v":300},{"n":2080,"v":2750},{"n":2100,"v":50},{"n":2150,"v":4.5},{"n":2300,"v":40},{"n":2500,"v":25},{"n":2700,"v":100},{"n":2800,"v":80},{"n":2835,"v":80},{"n":2870,"v":80},{"n":2905,"v":80},{"n":2940,"v":80},{"n":2975,"v":80},{"n":3010,"v":80},{"n":3045,"v":80},{"n":3080,"v":80},{"n":2890,"v":190},{"n":2940,"v":150},{"n":2990,"v":230},{"n":3050,"v":120},{"n":3200,"v":60},{"n":3400,"v":40},{"n":3600,"v":30},{"n":3760,"v":160},{"n":3800,"v":100},{"n":3900,"v":130},{"n":4000,"v":90},{"n":4050,"v":110},{"n":4200,"v":50},{"n":4400,"v":150},{"n":4450,"v":60},{"n":4500,"v":40},{"n":4550,"v":250},{"n":4600,"v":17},{"n":4635,"v":17},{"n":4670,"v":17},{"n":4705,"v":17},{"n":4740,"v":17},{"n":4775,"v":17},{"n":4810,"v":17},{"n":4845,"v":17},{"n":4880,"v":17},{"n":4915,"v":17},{"n":4950,"v":17},{"n":4985,"v":17},{"n":5000,"v":17},{"n":5200,"v":20},{"n":5300,"v":12},{"n":5400,"v":42},{"n":5500,"v":9},{"n":5650,"v":27},{"n":5800,"v":15},{"n":5950,"v":42},{"n":5900,"v":88},{"n":5935,"v":88},{"n":5970,"v":88},{"n":6005,"v":88},{"n":6040,"v":88},{"n":6075,"v":88},{"n":6110,"v":88},{"n":6145,"v":88},{"n":6180,"v":88},{"n":6215,"v":88},{"n":6250,"v":88},{"n":6285,"v":88},{"n":6320,"v":88},{"n":6355,"v":88},{"n":6390,"v":88},{"n":6100,"v":20},{"n":6300,"v":12},{"n":6590,"v":34},{"n":6700,"v":10},{"n":6920,"v":34},{"n":6970,"v":21},{"n":7100,"v":15},{"n":7230,"v":20},{"n":7265,"v":20},{"n":7300,"v":20},{"n":7335,"v":20},{"n":7370,"v":20},{"n":7405,"v":20},{"n":7440,"v":20},{"n":7475,"v":20},{"n":7510,"v":20},{"n":7545,"v":20},{"n":7580,"v":20},{"n":7615,"v":20},{"n":7650,"v":20},{"n":7685,"v":20},{"n":7720,"v":20},{"n":7500,"v":12},{"n":7900,"v":9},{"n":8045,"v":13.5},{"n":8065,"v":34},{"n":8300,"v":8},{"n":8500,"v":10},{"n":8700,"v":8},{"n":8980,"v":11},{"n":9200,"v":8},{"n":9500,"v":8},{"n":9800,"v":7},{"n":10100,"v":7},{"n":10500,"v":7},{"n":11000,"v":6.5},{"n":11500,"v":6.5}],
"t3": [{"n":0,"v":32},{"n":30,"v":300},{"n":60,"v":200},{"n":90,"v":250},{"n":120,"v":310},{"n":140,"v":120},{"n":150,"v":160},{"n":185,"v":160},{"n":220,"v":160},{"n":255,"v":160},{"n":290,"v":160},{"n":325,"v":160},{"n":360,"v":160},{"n":395,"v":160},{"n":430,"v":160},{"n":440,"v":60},{"n":460,"v":30},{"n":480,"v":45},{"n":500,"v":20},{"n":520,"v":12},{"n":540,"v":10},{"n":560,"v":35},{"n":580,"v":50},{"n":600,"v":18},{"n":620,"v":10},{"n":640,"v":9},{"n":660,"v":40},{"n":680,"v":14},{"n":700,"v":30},{"n":720,"v":9.5},{"n":740,"v":20},{"n":760,"v":12},{"n":780,"v":25},{"n":800,"v":200},{"n":820,"v":9},{"n":840,"v":150},{"n":860,"v":30},{"n":880,"v":40},{"n":900,"v":15},{"n":930,"v":20},{"n":960,"v":35},{"n":990,"v":10},{"n":820,"v":95},{"n":855,"v":95},{"n":890,"v":95},{"n":925,"v":95},{"n":960,"v":95},{"n":995,"v":95},{"n":1030,"v":95},{"n":1065,"v":95},{"n":1100,"v":95},{"n":1135,"v":95},{"n":1170,"v":95},{"n":1205,"v":95},{"n":1240,"v":95},{"n":1275,"v":95},{"n":1310,"v":95},{"n":1345,"v":95},{"n":1200,"v":12},{"n":1250,"v":15},{"n":1300,"v":9},{"n":1350,"v":11},{"n":1400,"v":10},{"n":1430,"v":25},{"n":1460,"v":14},{"n":1490,"v":40},{"n":1520,"v":9},{"n":1550,"v":20},{"n":1580,"v":60},{"n":1610,"v":12},{"n":1640,"v":30},{"n":1670,"v":8},{"n":1700,"v":18},{"n":1730,"v":45},{"n":1760,"v":11},{"n":1790,"v":25},{"n":1820,"v":70},{"n":1850,"v":9},{"n":1880,"v":35},{"n":1910,"v":15},{"n":1940,"v":100},{"n":1970,"v":22},{"n":2000,"v":140},{"n":2030,"v":12},{"n":2060,"v":50},{"n":2090,"v":8},{"n":2120,"v":28},{"n":2150,"v":18},{"n":2160,"v":60},{"n":2170,"v":76000},{"n":2180,"v":7800},{"n":2190,"v":830},{"n":2200,"v":160},{"n":2216,"v":44000},{"n":2216,"v":1150},{"n":2225,"v":320000},
{"n":2170,"v":4.3},{"n":2230,"v":4.3},{"n":2290,"v":4.3},{"n":2350,"v":4.3},{"n":2410,"v":4.3},{"n":2470,"v":4.3},{"n":2530,"v":4.3},{"n":2590,"v":4.3},{"n":2650,"v":4.3},{"n":2710,"v":4.3},{"n":2770,"v":4.3},{"n":2830,"v":4.3},{"n":2890,"v":4.3},{"n":2950,"v":4.3},{"n":3010,"v":4.3},{"n":3070,"v":4.3},{"n":3130,"v":4.3},{"n":3190,"v":4.3},{"n":3250,"v":4.3},{"n":3310,"v":4.3},{"n":3370,"v":4.3},{"n":3430,"v":4.3},{"n":3490,"v":4.3},{"n":3550,"v":4.3},{"n":3610,"v":4.3},{"n":3670,"v":4.3},{"n":3730,"v":4.3},{"n":3790,"v":4.3},{"n":3850,"v":4.3},{"n":3910,"v":4.3},{"n":3970,"v":4.3},{"n":4030,"v":4.3},{"n":4090,"v":4.3},{"n":4150,"v":4.3},{"n":4210,"v":4.3},{"n":4270,"v":4.3},{"n":4330,"v":4.3},{"n":4390,"v":4.3},{"n":4450,"v":4.3},{"n":4510,"v":4.3},
{"n":2240,"v":12},{"n":2270,"v":35},{"n":2300,"v":6},{"n":2330,"v":20},{"n":2360,"v":80},{"n":2390,"v":9},{"n":2420,"v":15},{"n":2450,"v":45},{"n":2480,"v":5},{"n":2510,"v":25},{"n":2540,"v":10},{"n":2570,"v":60},{"n":2600,"v":7},{"n":2630,"v":18},{"n":2660,"v":40},{"n":2690,"v":5.5},{"n":2720,"v":14},{"n":2750,"v":30},{"n":2780,"v":8},{"n":2810,"v":55},{"n":2840,"v":12},{"n":2870,"v":22},{"n":2900,"v":6},{"n":2930,"v":35},{"n":2960,"v":10},{"n":2990,"v":18},{"n":3020,"v":50},{"n":3050,"v":7},{"n":3080,"v":15},{"n":3110,"v":28},{"n":3140,"v":5},{"n":3170,"v":12},{"n":3200,"v":40},{"n":3230,"v":8},{"n":3260,"v":20},{"n":3290,"v":6},{"n":3320,"v":30},{"n":3350,"v":11},{"n":3380,"v":55},{"n":3410,"v":5},{"n":3440,"v":16},{"n":3470,"v":25},{"n":3500,"v":8},{"n":3530,"v":12},{"n":3560,"v":45},{"n":3590,"v":6},{"n":3620,"v":20},{"n":3650,"v":10},{"n":3680,"v":30},{"n":3710,"v":5.5},{"n":3740,"v":14},{"n":3770,"v":40},{"n":3800,"v":8},{"n":3830,"v":18},{"n":3860,"v":6},{"n":3890,"v":25},{"n":3920,"v":11},{"n":3950,"v":35},{"n":3980,"v":7},{"n":4010,"v":15},{"n":4040,"v":22},{"n":4070,"v":5},{"n":4100,"v":12},{"n":4130,"v":30},{"n":4160,"v":8},{"n":4190,"v":18},{"n":4220,"v":6},{"n":4250,"v":25},{"n":4280,"v":10},{"n":4310,"v":14},{"n":4340,"v":5},{"n":4370,"v":20},{"n":4400,"v":8},{"n":4430,"v":12},{"n":4460,"v":6},{"n":4480,"v":5},{"n":4490,"v":8},{"n":4500,"v":12},{"n":4510,"v":20},{"n":4520,"v":30},{"n":4530,"v":45},{"n":4540,"v":100},{"n":4550,"v":150},{"n":4560,"v":300},{"n":4570,"v":500},{"n":4580,"v":730},{"n":4590,"v":1230},{"n":4600,"v":340},{"n":4635,"v":340},{"n":4670,"v":340},{"n":4705,"v":340},{"n":4740,"v":340},{"n":4775,"v":340},{"n":4810,"v":340},{"n":4845,"v":340},{"n":4880,"v":340},{"n":4915,"v":340},{"n":4950,"v":340},{"n":4985,"v":340},{"n":5020,"v":340},{"n":5040,"v":340},
{"n":4820,"v":4.5},{"n":4860,"v":4.5},{"n":4900,"v":4.5},{"n":4940,"v":4.5},{"n":4980,"v":4.5},
{"n":5020,"v":4.5},{"n":5060,"v":4.5},{"n":5100,"v":4.5},{"n":5140,"v":4.5},{"n":5180,"v":4.5},{"n":5220,"v":4.5},{"n":5260,"v":4.5},{"n":5300,"v":4.5},{"n":5340,"v":4.5},{"n":5380,"v":4.5},{"n":5420,"v":4.5},{"n":5460,"v":4.5},{"n":5500,"v":4.5},{"n":5540,"v":4.5},{"n":5580,"v":4.5},{"n":5620,"v":4.5},{"n":5660,"v":4.5},{"n":5700,"v":4.5},{"n":5740,"v":4.5},{"n":5780,"v":4.5},{"n":5820,"v":4.5},{"n":5860,"v":4.5},{"n":5900,"v":4.5},{"n":5940,"v":4.5},{"n":5980,"v":4.5},
{"n":6020,"v":4.5},{"n":6060,"v":4.5},{"n":6100,"v":4.5},{"n":6140,"v":4.5},{"n":6180,"v":4.5},{"n":6220,"v":4.5},{"n":6260,"v":4.5},{"n":6300,"v":4.5},{"n":6340,"v":4.5},{"n":6380,"v":4.5},{"n":6420,"v":4.5},{"n":6460,"v":4.5},{"n":6500,"v":4.5},{"n":6540,"v":4.5},{"n":6580,"v":4.5},{"n":6620,"v":4.5},{"n":6660,"v":4.5},{"n":6700,"v":4.5},{"n":6740,"v":4.5},{"n":6780,"v":4.5},{"n":6820,"v":4.5},{"n":6860,"v":4.5},{"n":6900,"v":4.5},{"n":6940,"v":4.5},{"n":6980,"v":4.5},
{"n":7020,"v":4.5},{"n":7060,"v":4.5},{"n":7100,"v":4.5},{"n":7140,"v":4.5},{"n":7180,"v":4.5},{"n":7220,"v":4.5},{"n":7260,"v":4.5},{"n":7300,"v":4.5},{"n":7340,"v":4.5},{"n":7380,"v":4.5},{"n":7420,"v":4.5},{"n":7460,"v":4.5},{"n":7500,"v":4.5},{"n":7540,"v":4.5},{"n":7580,"v":4.5},{"n":7620,"v":4.5},{"n":7660,"v":4.5},{"n":7700,"v":4.5},{"n":7740,"v":4.5},{"n":7780,"v":4.5},{"n":7820,"v":4.5},{"n":7860,"v":4.5},{"n":7900,"v":4.5},{"n":7940,"v":4.5},{"n":7980,"v":4.5},
{"n":8020,"v":4.5},{"n":8060,"v":4.5},{"n":8100,"v":4.5},{"n":8140,"v":4.5},{"n":8180,"v":4.5},{"n":8220,"v":4.5},{"n":8260,"v":4.5},{"n":8300,"v":4.5},{"n":8340,"v":4.5},{"n":8380,"v":4.5},{"n":8420,"v":4.5},{"n":8460,"v":4.5},{"n":8500,"v":4.5},{"n":8540,"v":4.5},{"n":8580,"v":4.5},{"n":8620,"v":4.5},{"n":8660,"v":4.5},{"n":8700,"v":4.5},{"n":8740,"v":4.5},{"n":8780,"v":4.5},{"n":8820,"v":4.5},{"n":8860,"v":4.5},{"n":8900,"v":4.5},{"n":8940,"v":4.5},{"n":8980,"v":4.5},
{"n":9020,"v":4.5},{"n":9060,"v":4.5},{"n":9100,"v":4.5},{"n":9140,"v":4.5},{"n":9180,"v":4.5},{"n":9220,"v":4.5},{"n":9260,"v":4.5},{"n":9300,"v":4.5},{"n":9340,"v":4.5},{"n":9380,"v":4.5},{"n":9420,"v":4.5},{"n":9460,"v":4.5},{"n":9500,"v":4.5},{"n":9540,"v":4.5},{"n":9580,"v":4.5},{"n":9620,"v":4.5},{"n":9660,"v":4.5},{"n":9700,"v":4.5},{"n":9740,"v":4.5},{"n":9780,"v":4.5},{"n":9820,"v":4.5},{"n":9860,"v":4.5},{"n":9900,"v":4.5},{"n":9940,"v":4.5},{"n":9980,"v":4.5},
{"n":10020,"v":4.5},{"n":10060,"v":4.5},{"n":10100,"v":4.5},{"n":10140,"v":4.5},{"n":10180,"v":4.5},{"n":10220,"v":4.5},{"n":10260,"v":4.5},{"n":10300,"v":4.5},{"n":10340,"v":4.5},{"n":10380,"v":4.5},{"n":10420,"v":4.5},{"n":10460,"v":4.5},{"n":10500,"v":4.5},{"n":10540,"v":4.5},{"n":10580,"v":4.5},{"n":10620,"v":4.5},{"n":10660,"v":4.5},{"n":10700,"v":4.5},{"n":10740,"v":4.5},{"n":10780,"v":4.5},{"n":10820,"v":4.5},{"n":10860,"v":4.5},{"n":10900,"v":4.5},{"n":10940,"v":4.5},{"n":10980,"v":4.5},
{"n":11020,"v":4.5},{"n":11060,"v":4.5},{"n":11100,"v":4.5},{"n":11140,"v":4.5},{"n":11180,"v":4.5},{"n":11220,"v":4.5},{"n":11260,"v":4.5},{"n":11300,"v":4.5},{"n":11340,"v":4.5},{"n":11380,"v":4.5},{"n":11420,"v":4.5},{"n":11460,"v":4.5},{"n":11500,"v":4.5},{"n":11540,"v":4.5},{"n":11580,"v":4.5},{"n":11620,"v":4.5},{"n":11660,"v":4.5},{"n":11700,"v":4.5},{"n":11740,"v":4.5},{"n":11780,"v":4.5},{"n":11820,"v":4.5},{"n":11860,"v":4.5},{"n":11900,"v":4.5},{"n":11940,"v":4.5},
{"n":4950,"v":6},{"n":5050,"v":9},{"n":5150,"v":7},{"n":5250,"v":12},{"n":5360,"v":16},{"n":5450,"v":8},{"n":5550,"v":11},{"n":5650,"v":6.5},{"n":5750,"v":14},{"n":5850,"v":9},{"n":5950,"v":7},{"n":6050,"v":12},{"n":6180,"v":17},{"n":6250,"v":8},{"n":6350,"v":10},{"n":6450,"v":6.5},{"n":6550,"v":13},{"n":6650,"v":8},{"n":6750,"v":11},{"n":6850,"v":7},{"n":6950,"v":9},{"n":7050,"v":12},{"n":7150,"v":6.5},{"n":7250,"v":10},{"n":7350,"v":8},{"n":7450,"v":7},{"n":7550,"v":9},{"n":7650,"v":6},{"n":7750,"v":8.5},{"n":7850,"v":7},{"n":7950,"v":9},{"n":8050,"v":6},{"n":8150,"v":7.5},{"n":8250,"v":6},{"n":8350,"v":8},{"n":8450,"v":6.5},{"n":8550,"v":7},{"n":8650,"v":5.5},{"n":8750,"v":6.5},{"n":8850,"v":7.5},{"n":8950,"v":6},{"n":9050,"v":5.5},{"n":9150,"v":6.5},{"n":9250,"v":7},{"n":9350,"v":5.5},{"n":9450,"v":6},{"n":9550,"v":6.5},{"n":9650,"v":5.5},{"n":9750,"v":6},{"n":9850,"v":5.5},{"n":9950,"v":6.5},{"n":10050,"v":5.5},{"n":10150,"v":6},{"n":10250,"v":5.5},{"n":10350,"v":6.5},{"n":10450,"v":5.5},{"n":10550,"v":6},{"n":10650,"v":5.5},{"n":10750,"v":6.5},{"n":10850,"v":5.5},{"n":10950,"v":6},{"n":11050,"v":5.5},{"n":11150,"v":6.5},{"n":11250,"v":5.5},{"n":11350,"v":6},{"n":11450,"v":5.5},{"n":11550,"v":6},{"n":11650,"v":6.5},{"n":11750,"v":5.5},{"n":11850,"v":6},{"n":11950,"v":4.5}]
},
"bounds": "flush",
"spacing": 99,
"resolve": {"scale": {"fill": "independent"}, "legend": {"fill": "independent"}},
"vconcat": [
{"width": 677, "height": 227,
"layer": [
{"data": {"name": "l1"}, "mark": {"type": "circle", "size": 62, "stroke": "#000", "strokeWidth": 1, "opacity": 1},
"encoding": {
"x": {"field": "n", "type": "quantitative", "title": "Number of Iterations, n", "scale": {"domain": [0, 20000], "nice": false, "zero": false}, "axis": {"values": [0, 5000, 10000, 15000, 20000], "format": "d"}},
"y": {"field": "v", "type": "quantitative", "title": "Least Squares Value, S", "scale": {"type": "log", "domain": [0.1, 10000000], "nice": false}, "axis": {"values": [0.1, 1, 10, 100, 1000, 10000, 100000, 1000000, 10000000], "labelExpr": "datum.value < 0.5 ? '10⁻¹' : datum.value < 5 ? '10⁰' : datum.value < 50 ? '10¹' : datum.value < 500 ? '10²' : datum.value < 5000 ? '10³' : datum.value < 50000 ? '10⁴' : datum.value < 500000 ? '10⁵' : datum.value < 5000000 ? '10⁶' : '10⁷'"}},
"fill": {"datum": "L - 613MPa", "type": "nominal", "scale": {"domain": ["L - 613MPa", "T - 613MPa"], "range": ["#ffffff", "#0000ff"]}, "legend": {"title": null}}}},
{"data": {"name": "t1"}, "mark": {"type": "circle", "size": 62, "stroke": "#000", "strokeWidth": 1, "opacity": 1},
"encoding": {"x": {"field": "n", "type": "quantitative"}, "y": {"field": "v", "type": "quantitative"}, "fill": {"datum": "T - 613MPa", "type": "nominal"}}},
{"data": {"values": [{"t": "760⁰C"}]}, "mark": {"type": "text", "align": "right", "baseline": "alphabetic", "fontSize": 22, "fontStyle": "italic", "font": "Liberation Sans", "fill": "#000"},
"encoding": {"x": {"datum": 19760, "type": "quantitative"}, "y": {"datum": 0.2, "type": "quantitative"}, "text": {"field": "t", "type": "nominal"}}}
]},
{"width": 677, "height": 227,
"layer": [
{"data": {"name": "l2"}, "mark": {"type": "circle", "size": 62, "stroke": "#000", "strokeWidth": 1, "opacity": 1},
"encoding": {
"x": {"field": "n", "type": "quantitative", "title": "Number of Iterations, n", "scale": {"domain": [0, 20000], "nice": false, "zero": false}, "axis": {"values": [0, 5000, 10000, 15000, 20000], "format": "d"}},
"y": {"field": "v", "type": "quantitative", "title": "Least Squares Value, S", "scale": {"type": "log", "domain": [0.1, 10000000], "nice": false}, "axis": {"values": [0.1, 1, 10, 100, 1000, 10000, 100000, 1000000, 10000000], "labelExpr": "datum.value < 0.5 ? '10⁻¹' : datum.value < 5 ? '10⁰' : datum.value < 50 ? '10¹' : datum.value < 500 ? '10²' : datum.value < 5000 ? '10³' : datum.value < 50000 ? '10⁴' : datum.value < 500000 ? '10⁵' : datum.value < 5000000 ? '10⁶' : '10⁷'"}},
"fill": {"datum": "L - 455MPa", "type": "nominal", "scale": {"domain": ["L - 455MPa", "T - 455MPa"], "range": ["#ffffff", "#0000ff"]}, "legend": {"title": null}}}},
{"data": {"name": "t2"}, "mark": {"type": "circle", "size": 62, "stroke": "#000", "strokeWidth": 1, "opacity": 1},
"encoding": {"x": {"field": "n", "type": "quantitative"}, "y": {"field": "v", "type": "quantitative"}, "fill": {"datum": "T - 455MPa", "type": "nominal"}}},
{"data": {"values": [{"t": "816⁰C"}]}, "mark": {"type": "text", "align": "right", "baseline": "alphabetic", "fontSize": 22, "fontStyle": "italic", "font": "Liberation Sans", "fill": "#000"},
"encoding": {"x": {"datum": 19760, "type": "quantitative"}, "y": {"datum": 0.2, "type": "quantitative"}, "text": {"field": "t", "type": "nominal"}}}
]},
{"width": 677, "height": 227,
"layer": [
{"data": {"name": "l3"}, "mark": {"type": "circle", "size": 62, "stroke": "#000", "strokeWidth": 1, "opacity": 1},
"encoding": {
"x": {"field": "n", "type": "quantitative", "title": "Number of Iterations, n", "scale": {"domain": [0, 20000], "nice": false, "zero": false}, "axis": {"values": [0, 5000, 10000, 15000, 20000], "format": "d"}},
"y": {"field": "v", "type": "quantitative", "title": "Least Squares Value, S", "scale": {"type": "log", "domain": [0.1, 10000000], "nice": false}, "axis": {"values": [0.1, 1, 10, 100, 1000, 10000, 100000, 1000000, 10000000], "labelExpr": "datum.value < 0.5 ? '10⁻¹' : datum.value < 5 ? '10⁰' : datum.value < 50 ? '10¹' : datum.value < 500 ? '10²' : datum.value < 5000 ? '10³' : datum.value < 50000 ? '10⁴' : datum.value < 500000 ? '10⁵' : datum.value < 5000000 ? '10⁶' : '10⁷'"}},
"fill": {"datum": "L - 289MPa", "type": "nominal", "scale": {"domain": ["L - 289MPa", "T - 289MPa"], "range": ["#ffffff", "#0000ff"]}, "legend": {"title": null}}}},
{"data": {"name": "t3"}, "mark": {"type": "circle", "size": 62, "stroke": "#000", "strokeWidth": 1, "opacity": 1},
"encoding": {"x": {"field": "n", "type": "quantitative"}, "y": {"field": "v", "type": "quantitative"}, "fill": {"datum": "T - 289MPa", "type": "nominal"}}},
{"data": {"values": [{"t": "871⁰C"}]}, "mark": {"type": "text", "align": "right", "baseline": "alphabetic", "fontSize": 22, "fontStyle": "italic", "font": "Liberation Sans", "fill": "#000"},
"encoding": {"x": {"datum": 19760, "type": "quantitative"}, "y": {"datum": 0.2, "type": "quantitative"}, "text": {"field": "t", "type": "nominal"}}}
]}
]
}
